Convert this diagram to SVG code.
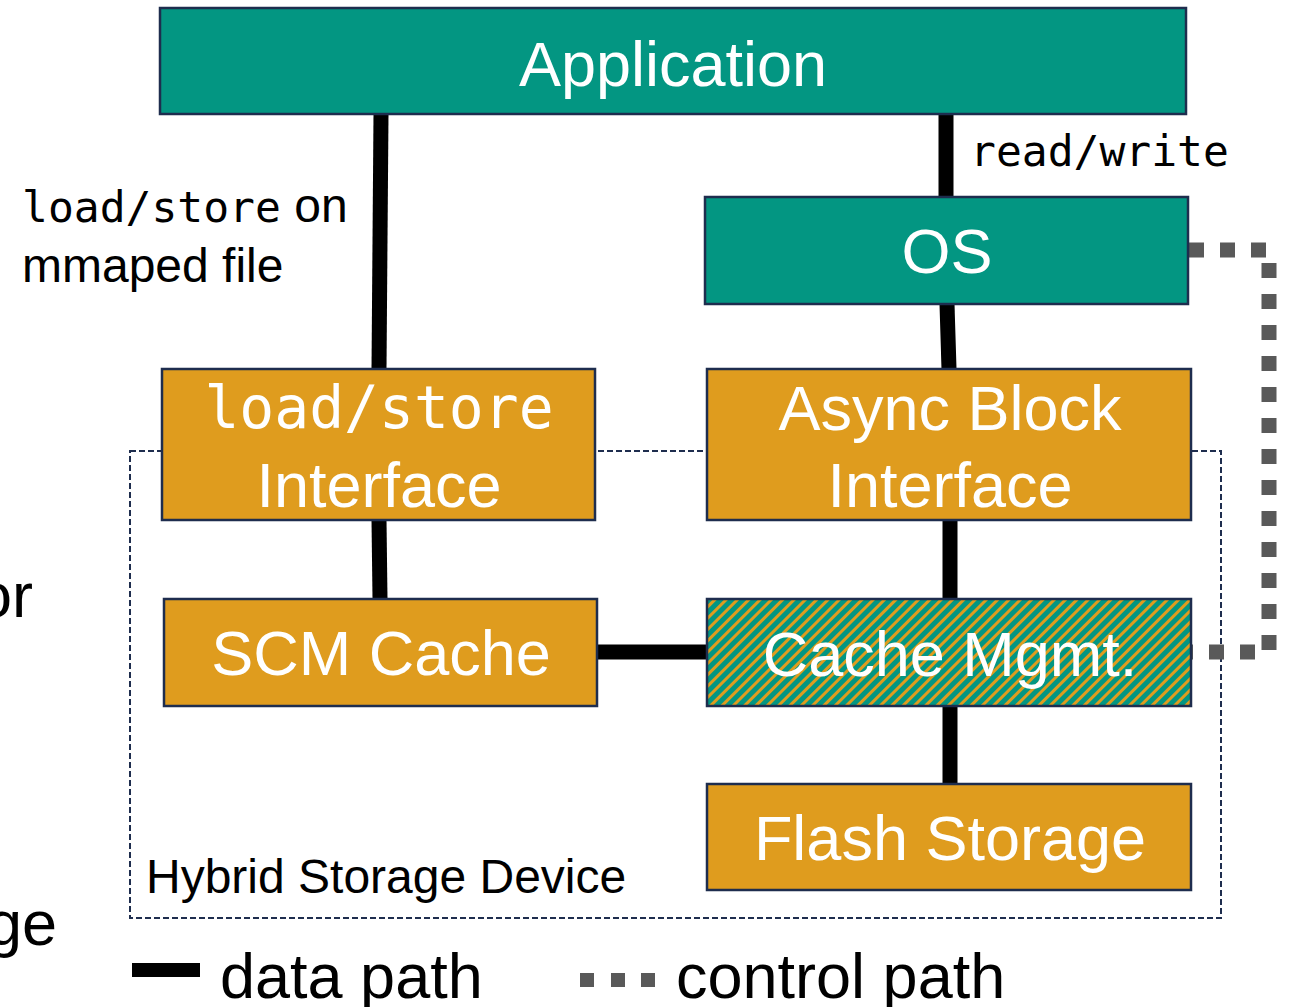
<svg xmlns="http://www.w3.org/2000/svg" width="1291" height="1007" viewBox="0 0 1291 1007">
  <style>
    .teal { fill: #039682; stroke: #1e2d4e; stroke-width: 2.5; }
    .amber { fill: #df9c1e; stroke: #1e2d4e; stroke-width: 2.5; }
    .hatch { fill: url(#stripes); stroke: #1e2d4e; stroke-width: 2.5; }
    .lbl { fill: #ffffff; font-family: "Liberation Sans", Arial, sans-serif; font-size: 63px; text-anchor: middle; }
    .note { fill: #000000; font-family: "Liberation Sans", Arial, sans-serif; font-size: 48px; }
    .big { fill: #000000; font-family: "Liberation Sans", Arial, sans-serif; font-size: 63px; }
    .mono { font-family: "DejaVu Sans Mono", "Liberation Mono", monospace; }
    .mono-sm { font-size: 43px; }
    .mono-lg { font-size: 58px; }
    .data { stroke: #000000; stroke-width: 15; fill: none; }
    .ctrl { stroke: #595959; stroke-width: 15; fill: none; stroke-dasharray: 15 16; }
  </style>
  <defs>
    <pattern id="stripes" width="8" height="8" patternUnits="userSpaceOnUse" patternTransform="rotate(45)">
      <rect width="8" height="8" fill="#039682"/>
      <rect width="3" height="8" fill="#df9c1e"/>
    </pattern>
  </defs>

  <rect width="1291" height="1007" fill="#ffffff"/>

  <!-- slide text running off the left edge -->
  <text class="big" x="-23" y="617">or</text>
  <text class="big" x="-13" y="945">ge</text>

  <!-- device boundary -->
  <g id="hybrid-device">
    <rect x="130" y="451" width="1091" height="467" fill="none" stroke="#1e2d4e" stroke-width="2" stroke-dasharray="6 3"/>
    <text class="note" x="146" y="893">Hybrid Storage Device</text>
  </g>

  <!-- connectors -->
  <g id="connectors">
    <line class="data" x1="381" y1="114" x2="379" y2="369"/>
    <line class="data" x1="379" y1="520" x2="380" y2="599"/>
    <line class="data" x1="946" y1="114" x2="946" y2="197"/>
    <line class="data" x1="947" y1="304" x2="949" y2="369"/>
    <line class="data" x1="950" y1="520" x2="950" y2="599"/>
    <line class="data" x1="950" y1="706" x2="950" y2="784"/>
    <line class="data" x1="597" y1="652" x2="707" y2="652"/>
    <path class="ctrl" d="M1189 250 H1269 V652 H1192"/>
  </g>

  <!-- edge labels -->
  <text class="note mono mono-sm" x="970" y="166">read/write</text>
  <text class="note" x="22" y="222"><tspan class="mono mono-sm">load/store</tspan> on</text>
  <text class="note" x="22" y="282">mmaped file</text>

  <g id="application">
    <rect class="teal" x="160" y="8" width="1026" height="106"/>
    <text class="lbl" x="673" y="86">Application</text>
  </g>

  <g id="os">
    <rect class="teal" x="705" y="197" width="483" height="107"/>
    <text class="lbl" x="947" y="273">OS</text>
  </g>

  <g id="loadstore-interface">
    <rect class="amber" x="162" y="369" width="433" height="151"/>
    <text class="lbl mono mono-lg" x="379" y="428">load/store</text>
    <text class="lbl" x="379" y="507">Interface</text>
  </g>

  <g id="async-block-interface">
    <rect class="amber" x="707" y="369" width="484" height="151"/>
    <text class="lbl" x="950" y="430">Async Block</text>
    <text class="lbl" x="950" y="507">Interface</text>
  </g>

  <g id="scm-cache">
    <rect class="amber" x="164" y="599" width="433" height="107"/>
    <text class="lbl" x="381" y="675">SCM Cache</text>
  </g>

  <g id="cache-mgmt">
    <rect class="hatch" x="707" y="599" width="484" height="107"/>
    <text class="lbl" x="950" y="676">Cache Mgmt.</text>
  </g>

  <g id="flash-storage">
    <rect class="amber" x="707" y="784" width="484" height="106"/>
    <text class="lbl" x="950" y="860">Flash Storage</text>
  </g>

  <!-- legend -->
  <g id="legend">
    <rect x="132" y="963" width="68" height="14" fill="#000000"/>
    <text class="big" x="220" y="998">data path</text>
    <rect x="580" y="973" width="14" height="14" fill="#595959"/>
    <rect x="611" y="973" width="14" height="14" fill="#595959"/>
    <rect x="641" y="973" width="14" height="14" fill="#595959"/>
    <text class="big" x="676" y="998">control path</text>
  </g>
</svg>
